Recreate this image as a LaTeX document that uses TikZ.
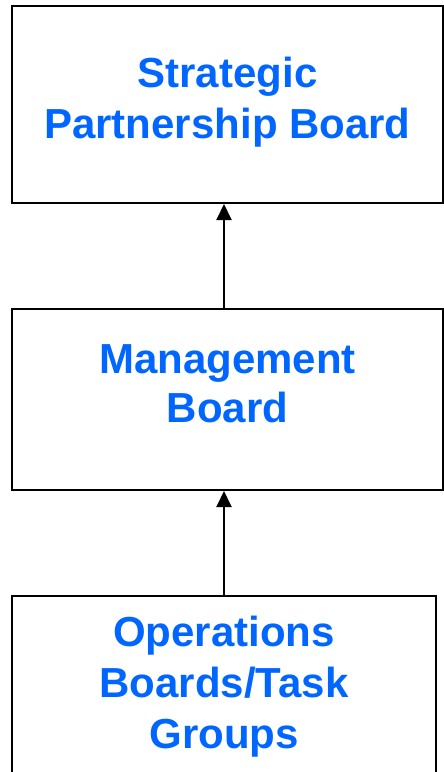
\documentclass[tikz,border=0pt]{standalone}
\usepackage{fontspec}
\setmainfont{Liberation Sans}
\usepackage{tikz}
\usetikzlibrary{positioning, arrows.meta}
\usepackage{xcolor}
\definecolor{boardblue}{HTML}{0066FF}

\begin{document}
\begin{tikzpicture}[x=1pt, y=-1pt,
  boardbox/.style={draw, rectangle, line width=2pt, inner sep=0pt, align=center,
    text=boardblue, font=\fontsize{42}{51}\selectfont\bfseries}]
\useasboundingbox (0,0) rectangle (444,772);
\node[boardbox, minimum width=431pt, minimum height=197pt, text depth=14pt] (strategic) at (227.5,104.5) {Strategic\\Partnership Board};
\node[boardbox, minimum width=431pt, minimum height=181pt, text depth=32pt, font=\fontsize{42}{49}\selectfont\bfseries] (management) at (227.5,399.5) {Management\\Board};
\node[boardbox, minimum width=424pt, minimum height=178pt, text depth=6pt] (operations) at (224,685) {Operations\\Boards/Task\\Groups};
\draw[-{Triangle[width=15pt, length=16pt]}, line width=2pt] (management.north -| operations.north) -- (strategic.south -| operations.north);
\draw[-{Triangle[width=15pt, length=16pt]}, line width=2pt] (operations.north) -- (management.south -| operations.north);
\end{tikzpicture}
\end{document}
